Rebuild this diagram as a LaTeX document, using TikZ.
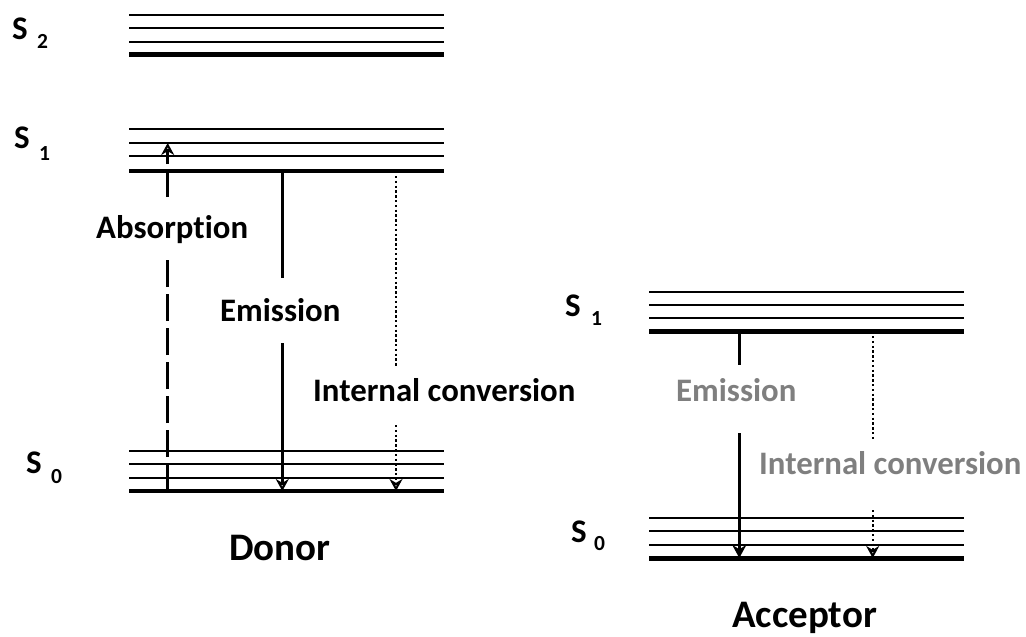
\documentclass[tikz,border=0pt]{standalone}
\usepackage{fontspec}
\setmainfont{Carlito}[Ligatures=NoCommon]
\usetikzlibrary{arrows.meta}
\definecolor{lgray}{HTML}{7F7F7F}
\tikzset{
  thinlvl/.style={line width=2.3pt},
  gndlvl/.style={line width=4.8pt},
  lbl/.style={font=\bfseries\fontsize{32.8}{36}\selectfont, anchor=base west, inner sep=0pt},
  biglbl/.style={font=\bfseries\fontsize{39}{42}\selectfont, anchor=base west, inner sep=0pt},
  slbl/.style={font=\bfseries\fontsize{33}{36}\selectfont, anchor=base west, inner sep=0pt},
  sublbl/.style={font=\bfseries\fontsize{21.5}{23}\selectfont, anchor=base west, inner sep=0pt},
  emis/.style={line width=2.8pt},
  absn/.style={line width=2.8pt, dash pattern=on 27pt off 7pt},
  icon/.style={line width=2.4pt, dash pattern=on 2.4pt off 2.4pt},
  openhead/.style={-{Stealth[open,length=12pt,width=13pt,line width=2.4pt]}},
  fullhead/.style={-{Stealth[length=13pt,width=14pt]}}
}
\begin{document}
\begin{tikzpicture}[x=1pt,y=-1pt]
\useasboundingbox (0,0) rectangle (1026,637);

% ---- Donor levels
\foreach \y in {14.7,28,41.7} \draw[thinlvl] (129,\y) -- (444,\y);
\draw[gndlvl] (129,54.7) -- (444,54.7);
\foreach \y in {129.3,142.7,156} \draw[thinlvl] (129,\y) -- (444,\y);
\draw[gndlvl] (129,171) -- (444,171);
\foreach \y in {451,464.3,477.7} \draw[thinlvl] (129,\y) -- (444,\y);
\draw[gndlvl] (129,491) -- (444,491);

% ---- Acceptor levels
\foreach \y in {291.7,305,318.3} \draw[thinlvl] (649,\y) -- (964,\y);
\draw[gndlvl] (649,331.7) -- (964,331.7);
\foreach \y in {517.7,531,544.7} \draw[thinlvl] (649,\y) -- (964,\y);
\draw[gndlvl] (649,558.7) -- (964,558.7);

% ---- State labels
\node[slbl] (s2) at (12,39) {S}; \node[sublbl] (s2i) at (37,48) {2};
\node[slbl] (s1d) at (14,148) {S}; \node[sublbl] (s1di) at (39,160) {1};
\node[slbl] (s0d) at (26,473) {S}; \node[sublbl] (s0di) at (51,483) {0};
\node[slbl] (s1a) at (565,316) {S}; \node[sublbl] (s1ai) at (591,325) {1};
\node[slbl] (s0a) at (571,542) {S}; \node[sublbl] (s0ai) at (594,550) {0};

% ---- Process labels
\node[lbl] (abs) at (96,238) {Absorption};
\node[lbl] (emd) at (220,321) {Emission};
\node[lbl] (icd) at (313,401) {Internal conversion};
\node[lbl, text=lgray] (ema) at (676,401) {Emission};
\node[lbl, text=lgray] (ica) at (759,474) {Internal conversion};
\node[biglbl] (donor) at (229,560) {Donor};
\node[biglbl] (acceptor) at (732,627) {Acceptor};

% ---- Connector coordinates
\coordinate (ab0) at (167.7,491);
\coordinate (ab1) at (167.7,257);
\coordinate (ab2) at (167.7,197);
\coordinate (ab3) at (167.7,143);
\coordinate (ed0) at (282.3,169);
\coordinate (ed1) at (282.3,278);
\coordinate (ed2) at (282.3,343);
\coordinate (ed3) at (282.3,491);
\coordinate (id0) at (396,176);
\coordinate (id1) at (396,367);
\coordinate (id2) at (396,425);
\coordinate (id3) at (396,491);
\coordinate (ea0) at (739.3,333);
\coordinate (ea1) at (739.3,365);
\coordinate (ea2) at (739.3,433);
\coordinate (ea3) at (739.3,558);
\coordinate (ia0) at (872.7,336);
\coordinate (ia1) at (872.7,439);
\coordinate (ia2) at (872.7,510);
\coordinate (ia3) at (872.7,558);

% ---- Donor transitions
\draw[absn] (ab0) -- (ab1);
\draw[absn, dash pattern=on 25pt off 8pt, openhead] (ab2) -- (ab3);
\draw[emis] (ed0) -- (ed1);
\draw[emis, openhead] (ed2) -- (ed3);
\draw[icon] (id0) -- (id1);
\draw[icon, openhead] (id2) -- (id3);

% ---- Acceptor transitions
\draw[emis] (ea0) -- (ea1);
\draw[emis, fullhead] (ea2) -- (ea3);
\draw[icon] (ia0) -- (ia1);
\draw[icon, openhead] (ia2) -- (ia3);
\end{tikzpicture}
\end{document}
